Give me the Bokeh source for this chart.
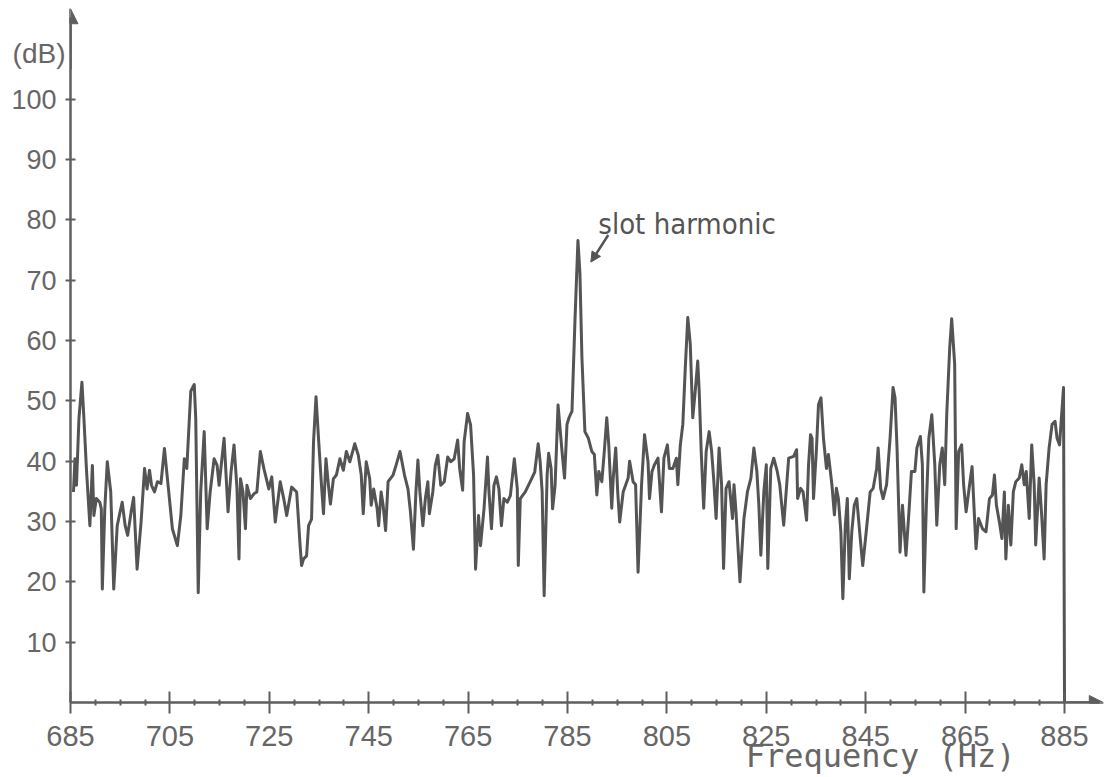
from bokeh.plotting import figure
from bokeh.models import Range1d, FixedTicker, Arrow, NormalHead, Label, LinearAxis
from bokeh.embed import file_html
from bokeh.resources import INLINE

# Spectrum trace: frequency (Hz) and level (dB)
freq = [
    685.6, 685.9, 686.2, 686.7, 687.3, 687.7, 688.2, 688.9, 689.4, 689.7,
    690.2, 690.9, 691.2, 691.4, 691.9, 692.4, 693.1, 693.7, 694.4, 694.9,
    695.4, 696.0, 696.5, 697.2, 697.7, 698.4, 699.2, 699.9, 700.4, 700.9,
    701.3, 701.9, 702.5, 703.2, 703.9, 704.5, 705.5, 706.5, 707.2, 707.9,
    708.4, 709.2, 709.9, 710.2, 710.7, 711.2, 711.9, 712.5, 713.1, 713.9,
    714.5, 714.9, 715.9, 716.7, 717.3, 717.9, 718.5, 718.9, 719.2, 719.7,
    720.2, 720.5, 721.2, 721.9, 722.5, 723.2, 723.9, 724.9, 725.5, 726.2,
    727.2, 727.9, 728.5, 729.5, 730.5, 731.2, 731.5,
    731.9, 732.5, 732.9, 733.5, 733.9, 734.4, 734.9, 735.5, 735.9, 736.4,
    736.9, 737.3, 737.9, 738.5, 739.2, 739.9, 740.5, 741.2, 742.2, 742.9,
    743.5, 743.9, 744.5, 745.2, 745.5, 746.0, 746.7, 747.0, 747.5, 747.9,
    748.4, 748.9, 749.9, 750.5, 751.3, 752.2, 752.9, 753.4, 754.0, 754.5,
    754.9, 755.3, 755.9, 756.4, 756.9, 757.2, 757.9, 758.4, 758.9, 759.5,
    760.2, 760.9, 761.5, 762.2, 762.9, 763.3, 763.9, 764.2, 764.9, 765.5,
    766.1, 766.5, 767.1, 767.5, 768.2, 768.9, 769.2, 769.7, 770.2, 770.7,
    771.2, 771.7, 772.2, 772.9, 773.5, 774.3, 774.9, 775.1, 775.5, 776.5,
    777.5, 778.4, 779.1, 779.5, 779.9, 780.3, 780.9, 781.2, 781.7, 782.0,
    782.5, 783.1,
    783.9, 784.4, 784.9, 785.3, 785.9, 786.5, 787.1, 787.5, 787.9, 788.5,
    789.2, 789.9, 790.4, 790.9, 791.3, 791.9, 792.4, 792.9, 793.3, 793.9,
    794.2, 794.7, 795.1, 795.5, 796.2, 797.2, 797.5, 798.2, 798.7, 799.2,
    799.9, 800.5, 801.2, 801.5, 802.0, 802.5, 803.2, 803.9, 804.4, 805.1,
    805.5, 806.2, 806.9, 807.2, 807.7, 808.2, 808.7, 809.2, 809.7, 810.2,
    810.7, 811.2, 811.5, 811.9, 812.4, 812.9, 813.5, 814.0, 814.4, 814.9,
    815.5, 816.0, 816.4, 816.9, 817.5, 818.2, 818.5, 818.9, 819.7, 820.5,
    821.2, 821.9, 822.5, 823.1, 823.5, 823.9, 824.5, 825.0, 825.3, 825.9,
    826.5, 827.2,
    827.7, 828.5, 829.2, 829.5, 830.5, 831.1, 831.3, 831.9, 832.4, 833.1,
    833.5, 833.9, 834.2, 834.5, 835.1, 835.5, 836.0, 836.5, 837.1, 837.5,
    838.2, 838.7, 839.1, 839.5, 840.0, 840.4, 840.9, 841.3, 841.7, 842.2,
    842.7, 843.2, 843.9, 844.4, 845.1, 845.9, 846.5, 847.2, 847.5, 848.0,
    848.5, 849.2, 849.9, 850.5, 850.9, 851.3, 851.9, 852.4, 853.1, 853.7,
    854.2, 854.9, 855.3, 856.0, 856.4, 856.7, 857.2, 857.7, 858.3, 858.9,
    859.3, 859.9, 860.4, 860.9, 861.3, 861.9, 862.3, 862.9, 863.2, 863.7,
    864.3, 864.7, 865.2, 865.9, 866.4, 866.9, 867.2, 867.7, 868.5, 869.2,
    869.9, 870.5, 870.9, 871.3, 871.9, 872.4, 872.9, 873.2, 873.7, 874.2,
    874.7, 875.2, 875.9, 876.4, 876.9, 877.3, 877.9, 878.4, 878.9, 879.2,
    879.9, 880.4, 880.9, 881.3, 881.9, 882.5, 883.1, 883.5, 884.0, 884.8,
    885.0,
]
level = [
    34.9, 40.4, 36.0, 47.1, 53.1, 47.1, 38.8, 29.3, 39.3, 31.0,
    33.8, 33.2, 32.1, 18.8, 32.1, 39.9, 34.9, 18.8, 29.3, 31.3,
    33.2, 29.3, 27.7, 31.6, 34.0, 22.1, 29.9, 38.8, 35.4, 38.5,
    36.0, 34.9, 36.6, 36.3, 42.1, 37.1, 28.8, 26.0, 31.0, 40.4,
    38.8, 51.6, 52.7, 47.1, 18.2, 34.9, 44.9, 28.8, 34.9, 40.4,
    39.3, 36.0, 43.8, 31.6, 38.2, 42.7, 35.4, 23.8, 37.1, 34.9,
    28.8, 36.0, 33.8, 34.6, 34.9, 41.6, 38.8, 35.4, 37.4, 29.9,
    36.6, 33.8, 31.0, 35.7, 34.9, 26.0, 22.7,
    23.8, 24.3, 29.3, 30.4, 43.2, 50.7, 43.8, 36.0, 31.3, 40.4,
    36.0, 32.9, 37.1, 37.7, 40.4, 38.5, 41.6, 39.9, 42.9, 41.0,
    37.7, 31.3, 39.9, 37.1, 32.7, 35.4, 32.1, 29.3, 34.9, 32.7,
    28.5, 36.6, 37.7, 39.3, 41.6, 37.7, 35.4, 31.6, 25.4, 34.9,
    40.2, 34.9, 29.3, 33.8, 36.6, 31.3, 34.9, 39.3, 41.0, 36.0,
    36.6, 40.7, 39.9, 40.4, 43.5, 38.8, 35.2, 43.2, 47.9, 46.0,
    37.7, 22.1, 31.0, 26.0, 32.1, 40.7, 34.9, 28.8, 36.0, 37.4,
    35.4, 29.3, 33.8, 33.2, 34.3, 40.4, 35.4, 22.7, 33.8, 34.9,
    36.6, 38.2, 42.9, 39.9, 34.9, 17.7, 37.7, 41.3, 38.8, 32.1,
    36.0, 49.3,
    41.6, 37.2, 46.1, 47.2, 48.3, 63.3, 76.6, 71.1, 57.2, 44.9,
    43.8, 41.6, 41.1, 34.4, 38.3, 36.6, 41.6, 47.2, 42.7, 32.2,
    37.2, 42.2, 34.9, 29.9, 34.9, 37.2, 40.0, 36.6, 36.1, 21.6,
    36.1, 44.4, 39.9, 33.8, 38.3, 39.4, 40.5, 31.6, 40.5, 42.7,
    38.8, 38.8, 40.5, 36.1, 42.7, 46.1, 55.5, 63.8, 59.4, 47.2,
    51.6, 56.6, 51.6, 41.6, 32.2, 41.6, 44.9, 41.6, 37.2, 30.5,
    42.2, 36.1, 22.2, 35.5, 36.6, 30.5, 36.1, 31.6, 20.0, 30.5,
    34.9, 37.2, 42.2, 38.3, 32.7, 24.4, 34.9, 39.4, 22.2, 38.8,
    40.5, 38.3,
    36.1, 29.4, 37.2, 40.5, 40.8, 41.9, 33.8, 35.5, 34.9, 30.2,
    39.4, 44.4, 43.8, 33.8, 42.2, 49.4, 50.5, 43.8, 38.8, 41.1,
    36.1, 31.1, 35.5, 33.8, 28.3, 17.2, 29.4, 33.8, 20.5, 28.3,
    32.7, 33.8, 27.2, 22.7, 28.3, 34.9, 35.5, 38.8, 42.2, 35.5,
    33.8, 36.1, 43.8, 52.2, 50.5, 42.2, 24.9, 32.7, 24.4, 31.6,
    38.3, 38.3, 42.2, 44.1, 39.4, 18.3, 32.7, 43.8, 47.7, 39.4,
    29.4, 39.4, 42.2, 36.1, 47.7, 58.8, 63.6, 56.1, 28.8, 41.6,
    42.7, 36.1, 31.6, 36.1, 39.1, 30.5, 25.5, 30.5, 28.8, 28.3,
    33.8, 34.4, 37.7, 32.7, 29.9, 27.2, 34.9, 23.8, 32.7, 26.1,
    34.9, 36.6, 37.2, 39.4, 36.1, 38.3, 30.5, 42.7, 36.1, 26.1,
    37.2, 31.1, 23.8, 36.1, 42.2, 46.1, 46.6, 43.8, 42.7, 52.2,
    0.0,
]

x_ticks = [685, 705, 725, 745, 765, 785, 805, 825, 845, 865, 885]
x_minor = [690, 695, 700, 710, 715, 720, 730, 735, 740, 750, 755, 760,
           770, 775, 780, 790, 795, 800, 810, 815, 820, 830, 835, 840,
           850, 855, 860, 870, 875, 880]
y_ticks = [10, 20, 30, 40, 50, 60, 70, 80, 90, 100]

x_title, x_title_at = "Frequency (Hz)", 848
y_title, y_title_at = "(dB)", 107.5

peak_freq = 787.1
peak_label = "slot harmonic"

TRACE = "#545454"
AXIS = "#5e5e5e"
TEXT = "#666666"

p = figure(
    width=1112, height=777,
    output_backend="svg", toolbar_location=None,
    x_range=Range1d(685, 893.85), y_range=Range1d(0, 115.7),
    min_border_left=70, min_border_right=4,
    min_border_top=4, min_border_bottom=74,
    background_fill_color="white", border_fill_color="white",
)
p.outline_line_color = None
p.grid.visible = False

# main axes
p.xaxis.ticker = FixedTicker(ticks=x_ticks, minor_ticks=x_minor)
p.yaxis.ticker = FixedTicker(ticks=y_ticks)
p.xaxis.bounds = (685, 892.0)
p.yaxis.bounds = (0, 113.5)
for ax in (p.xaxis, p.yaxis):
    ax.axis_line_color = AXIS
    ax.axis_line_width = 2.5
    ax.major_tick_line_color = AXIS
    ax.major_tick_line_width = 2
    ax.minor_tick_line_color = AXIS
    ax.minor_tick_line_width = 2
    ax.major_label_text_color = TEXT
    ax.major_label_text_font = "Liberation Sans"
    ax.major_label_text_font_style = "normal"

p.xaxis.major_tick_in = 11
p.xaxis.major_tick_out = 11
p.xaxis.minor_tick_in = 3
p.xaxis.minor_tick_out = 3
p.xaxis.major_label_text_font_size = "29px"
p.xaxis.major_label_standoff = 12

p.yaxis.major_tick_in = 5
p.yaxis.major_tick_out = 5
p.yaxis.minor_tick_line_color = None
p.yaxis.major_label_text_font_size = "27px"
p.yaxis.major_label_standoff = 9


def title_axis(tick, text, font, size, standoff):
    """A bare axis that only carries one titled label."""
    return LinearAxis(
        ticker=FixedTicker(ticks=[tick]),
        major_label_overrides={tick: text},
        axis_line_color=None,
        major_tick_line_color=None, minor_tick_line_color=None,
        major_tick_in=0, major_tick_out=0,
        major_label_standoff=standoff,
        major_label_text_font=font,
        major_label_text_font_size=size,
        major_label_text_color=TEXT,
    )


p.add_layout(title_axis(x_title_at, x_title, "DejaVu Sans Mono", "32px", -12), "below")
p.add_layout(title_axis(y_title_at, y_title, "Liberation Sans", "28px", -57), "left")

# arrow heads at the ends of the axes
p.add_layout(Arrow(end=NormalHead(size=15, fill_color=AXIS, line_color=AXIS),
                   x_start=685, y_start=105, x_end=685, y_end=115.0,
                   line_color=AXIS, line_width=2.5))
p.add_layout(Arrow(end=NormalHead(size=14, fill_color=AXIS, line_color=AXIS),
                   x_start=885, y_start=0, x_end=892.8, y_end=0,
                   line_color=AXIS, line_width=2.5))

# spectrum
p.line(freq, level, line_color=TRACE, line_width=3, line_join="round")

# annotation for the slot harmonic
p.add_layout(Label(x=791.2, y=79.3, text=peak_label,
                   text_font="'DejaVu Sans Condensed', 'DejaVu Sans', sans-serif",
                   text_font_size="29px",
                   text_color=TRACE, text_align="left",
                   text_baseline="alphabetic"))
p.add_layout(Arrow(end=NormalHead(size=10, fill_color=TRACE, line_color=TRACE),
                   x_start=793.2, y_start=77.5, x_end=peak_freq + 2.6, y_end=73.0,
                   line_color=TRACE, line_width=2.5))

open("out.html", "w").write(file_html(p, INLINE))
